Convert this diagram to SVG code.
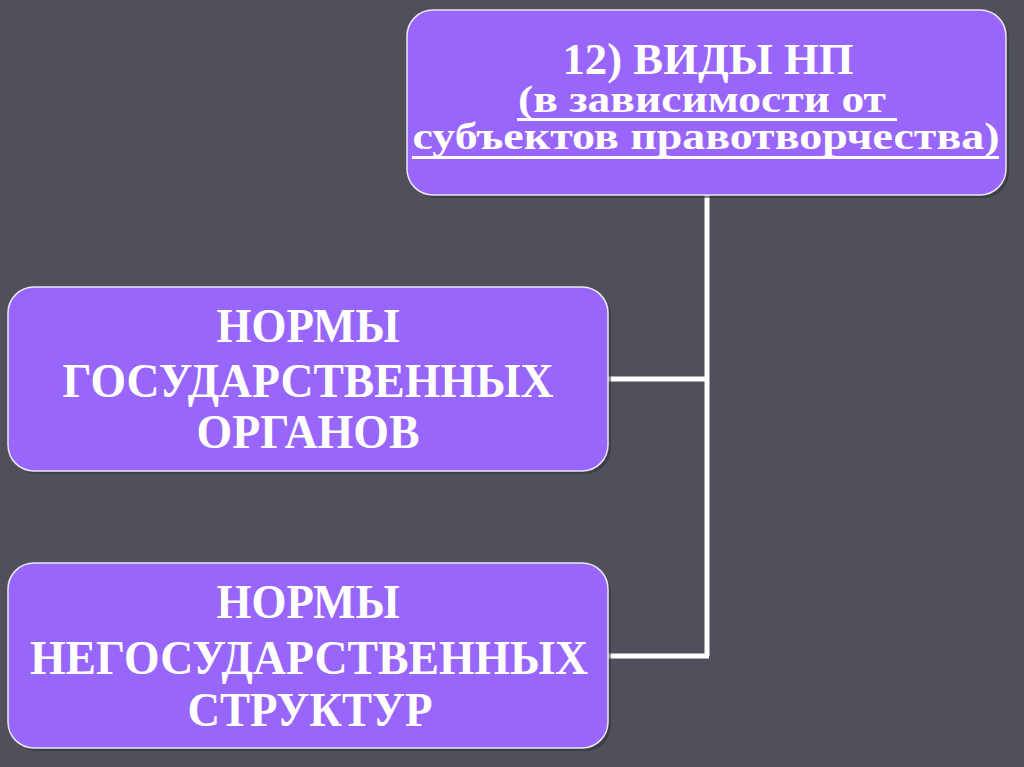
<svg xmlns="http://www.w3.org/2000/svg" width="1024" height="767" viewBox="0 0 1024 767">
<defs>
<style>
.box{fill:#9966fc;stroke:#ece6fa;stroke-width:1.5}
.sh{fill:#303138;opacity:0.55}
.t{font-family:"Liberation Serif","Times New Roman",serif;font-weight:bold;fill:#ffffff;text-anchor:middle}
.big{font-size:48px}
.ttl{font-size:44px}
.sub{font-size:37px}
.ul{stroke:#ffffff;stroke-width:3}
.conn{stroke:#ffffff;stroke-width:5;fill:none}
</style>
</defs>
<rect width="1024" height="767" fill="#4f5059"/>
<g id="connectors">
<path class="conn" d="M707 195 V656 M607 379 H709 M607 656 H709"/>
</g>
<g id="top">
<rect class="sh" x="410" y="13" width="599" height="185" rx="26"/>
<rect class="box" x="407" y="10" width="599" height="185" rx="26"/>
<text class="t ttl" x="708" y="74" textLength="291" lengthAdjust="spacingAndGlyphs">12) ВИДЫ НП</text>
<text class="t sub" x="702" y="112" textLength="368" lengthAdjust="spacingAndGlyphs">(в зависимости от</text>
<line class="ul" x1="517" y1="119.5" x2="897" y2="119.5"/>
<text class="t sub" x="706" y="149" textLength="587" lengthAdjust="spacingAndGlyphs">субъектов правотворчества)</text>
<line class="ul" x1="412" y1="157.5" x2="999" y2="157.5"/>
</g>
<g id="gos">
<rect class="sh" x="11" y="290" width="600" height="184" rx="26"/>
<rect class="box" x="8" y="287" width="600" height="184" rx="26"/>
<text class="t big" x="308" y="342" textLength="183" lengthAdjust="spacingAndGlyphs">НОРМЫ</text>
<text class="t big" x="308" y="397" textLength="491" lengthAdjust="spacingAndGlyphs">ГОСУДАРСТВЕННЫХ</text>
<text class="t big" x="308" y="448" textLength="223" lengthAdjust="spacingAndGlyphs">ОРГАНОВ</text>
</g>
<g id="negos">
<rect class="sh" x="11" y="566" width="600" height="185" rx="26"/>
<rect class="box" x="8" y="563" width="600" height="185" rx="26"/>
<text class="t big" x="308" y="618" textLength="183" lengthAdjust="spacingAndGlyphs">НОРМЫ</text>
<text class="t big" x="309" y="674" textLength="558" lengthAdjust="spacingAndGlyphs">НЕГОСУДАРСТВЕННЫХ</text>
<text class="t big" x="310" y="726" textLength="245" lengthAdjust="spacingAndGlyphs">СТРУКТУР</text>
</g>
</svg>
